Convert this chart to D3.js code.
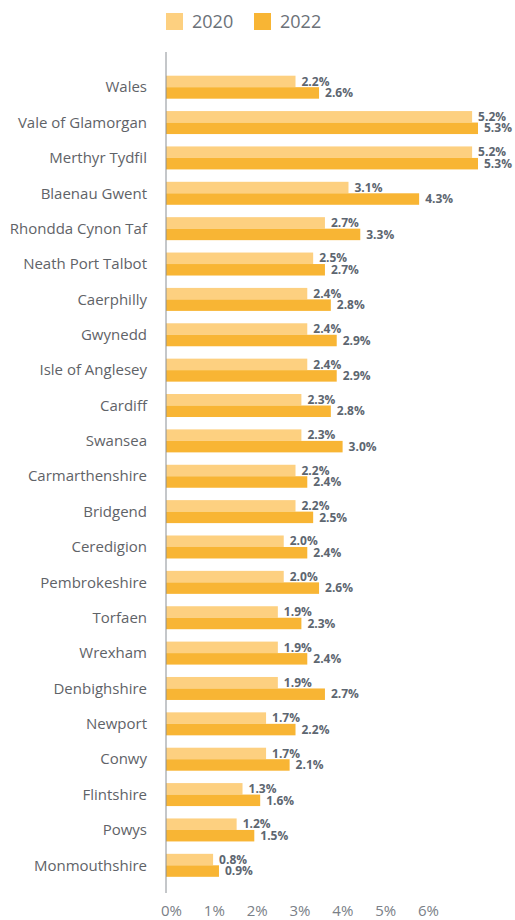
<!DOCTYPE html>
<html>
<head>
<meta charset="utf-8">
<script src="https://cdn.jsdelivr.net/npm/d3@7"></script>
<style>
  body { margin: 0; background: #fff; }
  text { font-family: "Open Sans", sans-serif; }
</style>
</head>
<body>
<div id="chart"></div>
<script>
const areas = ["Wales", "Vale of Glamorgan", "Merthyr Tydfil", "Blaenau Gwent", "Rhondda Cynon Taf",
  "Neath Port Talbot", "Caerphilly", "Gwynedd", "Isle of Anglesey", "Cardiff", "Swansea",
  "Carmarthenshire", "Bridgend", "Ceredigion", "Pembrokeshire", "Torfaen", "Wrexham",
  "Denbighshire", "Newport", "Conwy", "Flintshire", "Powys", "Monmouthshire"];
const values2020 = [2.2, 5.2, 5.2, 3.1, 2.7, 2.5, 2.4, 2.4, 2.4, 2.3, 2.3, 2.2, 2.2, 2.0, 2.0, 1.9, 1.9, 1.9, 1.7, 1.7, 1.3, 1.2, 0.8];
const values2022 = [2.6, 5.3, 5.3, 4.3, 3.3, 2.7, 2.8, 2.9, 2.9, 2.8, 3.0, 2.4, 2.5, 2.4, 2.6, 2.3, 2.4, 2.7, 2.2, 2.1, 1.6, 1.5, 0.9];
const tickValues = [0, 1, 2, 3, 4, 5, 6];
const seriesNames = ["2020", "2022"];

const main = function() {
  const width = 515, height = 920;
  const colors = ["#fdd080", "#f8b534"];

  const svg = d3.select("#chart").append("svg")
    .attr("width", width)
    .attr("height", height);

  const y = d3.scaleBand()
    .domain(areas)
    .range([69.5, 883])
    .paddingInner(0.35)
    .paddingOuter(0.175);

  const x = d3.scaleLinear().domain([0, 5.3]).range([166, 478]);
  // the tick labels in the original do not line up with the bars
  const xTicks = d3.scaleLinear().domain([0, 6]).range([171, 428]);

  const sub = d3.scaleBand().domain(seriesNames).range([0, y.bandwidth()]);

  const rows = areas.map((a, i) => ({ area: a, vals: [values2020[i], values2022[i]] }));

  const g = svg.selectAll(".row")
    .data(rows)
    .enter()
    .append("g")
    .attr("transform", d => "translate(0," + y(d.area) + ")");

  g.selectAll("rect")
    .data(d => d.vals.map((v, k) => ({ v: v, s: seriesNames[k], k: k })))
    .enter()
    .append("rect")
    .attr("x", x(0))
    .attr("y", d => sub(d.s))
    .attr("width", d => x(d.v) - x(0))
    .attr("height", sub.bandwidth())
    .style("fill", d => colors[d.k]);

  g.selectAll(".val")
    .data(d => d.vals.map((v, k) => ({ v: v, s: seriesNames[k] })))
    .enter()
    .append("text")
    .attr("x", d => x(d.v) + 6)
    .attr("y", d => sub(d.s) + sub.bandwidth() / 2)
    .attr("dy", "0.35em")
    .style("font-size", "12px")
    .style("font-weight", "bold")
    .style("fill", "#5d6670")
    .text(d => d.v.toFixed(1) + "%");

  g.append("text")
    .attr("x", 147)
    .attr("y", y.bandwidth() / 2)
    .attr("dy", "0.35em")
    .attr("text-anchor", "end")
    .style("font-size", "15px")
    .style("fill", "#5f6368")
    .text(d => d.area);

  // axis line
  svg.append("line")
    .attr("x1", x(0)).attr("x2", x(0))
    .attr("y1", 52).attr("y2", 893)
    .style("stroke", "#8a8f94")
    .style("stroke-width", 1);

  const xAxis = svg.append("g")
    .attr("transform", "translate(0,911)")
    .call(d3.axisBottom(xTicks).tickValues(tickValues).tickSize(0).tickFormat(d => d + "%"));
  xAxis.select(".domain").remove();
  xAxis.selectAll("text")
    .attr("y", 0)
    .attr("dy", "0.35em")
    .style("font-family", "'Open Sans', sans-serif")
    .style("font-size", "15px")
    .style("fill", "#7a8087");

  // legend
  const legendX = [166, 254];
  const legend = svg.selectAll(".legend")
    .data(seriesNames)
    .enter()
    .append("g")
    .attr("transform", (d, i) => "translate(" + legendX[i] + ",13)");
  legend.append("rect")
    .attr("width", 17)
    .attr("height", 17)
    .style("fill", (d, i) => colors[i]);
  legend.append("text")
    .attr("x", 26)
    .attr("y", 8.5)
    .attr("dy", "0.35em")
    .style("font-size", "18px")
    .style("fill", "#6b7178")
    .text(d => d);
};

window.onload = main;
</script>
</body>
</html>
